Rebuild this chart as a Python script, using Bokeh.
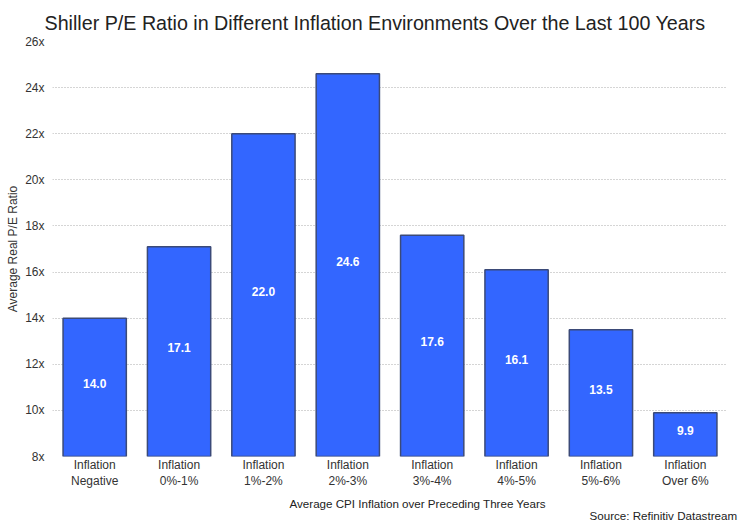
from bokeh.plotting import figure
from bokeh.models import (ColumnDataSource, FactorRange, Range1d, FixedTicker,
                          PrintfTickFormatter, Title)
from bokeh.core.properties import value
from bokeh.embed import file_html
from bokeh.resources import INLINE

categories = ["Inflation\nNegative", "Inflation\n0%-1%", "Inflation\n1%-2%", "Inflation\n2%-3%",
              "Inflation\n3%-4%", "Inflation\n4%-5%", "Inflation\n5%-6%", "Inflation\nOver 6%"]
pe_values = [14.0, 17.1, 22.0, 24.6, 17.6, 16.1, 13.5, 9.9]
y_ticks = [8, 10, 12, 14, 16, 18, 20, 22, 24, 26]

FONT = "Liberation Sans"
base = y_ticks[0]

src = ColumnDataSource(dict(
    x=categories,
    top=pe_values,
    mid=[(base + v) / 2 for v in pe_values],
    label=[f"{v:.1f}" for v in pe_values],
))

p = figure(width=740, height=522, x_range=FactorRange(*categories, range_padding=0),
           y_range=Range1d(y_ticks[0], y_ticks[-1]),
           output_backend="svg", toolbar_location=None,
           min_border_left=52, min_border_right=13, min_border_top=41, min_border_bottom=66)
p.outline_line_color = None
p.background_fill_color = "white"
p.border_fill_color = "white"

p.title.text = "Shiller P/E Ratio in Different Inflation Environments Over the Last 100 Years"
p.title.text_font = FONT
p.title.text_font_size = "19.7px"
p.title.text_font_style = "normal"
p.title.text_color = "#222222"
p.title.align = "left"
p.title.vertical_align = "top"
p.title.offset = -8
p.title.standoff = 11

p.vbar(x="x", top="top", bottom=base, width=0.75, source=src,
       fill_color="#3366ff", line_color="#3b4a78", line_width=1.5)
p.text(x="x", y="mid", text="label", source=src, text_color="white",
       text_font=value(FONT), text_font_size="12px", text_font_style="bold",
       text_align="center", text_baseline="middle", y_offset=-4)

p.xgrid.grid_line_color = None
p.ygrid.grid_line_color = "#aaaaaa"
p.ygrid.grid_line_dash = "1 2"
p.ygrid.grid_line_width = 1

p.yaxis.ticker = FixedTicker(ticks=y_ticks)
p.yaxis.formatter = PrintfTickFormatter(format="%dx")
p.yaxis.axis_label = "Average Real P/E Ratio"
for ax in (p.xaxis, p.yaxis):
    ax.axis_line_color = None
    ax.major_tick_line_color = None
    ax.minor_tick_line_color = None
    ax.major_tick_out = 0
    ax.major_tick_in = 0
    ax.minor_tick_out = 0
    ax.minor_tick_in = 0
    ax.major_label_text_font = FONT
    ax.major_label_text_font_size = "12px"
    ax.major_label_text_color = "#333333"
    ax.axis_label_text_font = FONT
    ax.axis_label_text_font_size = "12px"
    ax.axis_label_text_font_style = "normal"
    ax.axis_label_text_color = "#333333"
p.yaxis.major_label_standoff = 8
p.yaxis.axis_label_standoff = 2
p.xaxis.major_label_standoff = 1

xlab = Title(text="Average CPI Inflation over Preceding Three Years", align="left",
             text_font=FONT, text_font_size="11.6px", text_font_style="normal",
             text_color="#222222", offset=237, standoff=7)
p.add_layout(xlab, "below")
srcl = Title(text="Source: Refinitiv Datastream", align="left",
             text_font=FONT, text_font_size="11.6px", text_font_style="normal",
             text_color="#222222", offset=537, standoff=-13)
p.add_layout(srcl, "below")

open("out.html", "w").write(file_html(p, INLINE))
